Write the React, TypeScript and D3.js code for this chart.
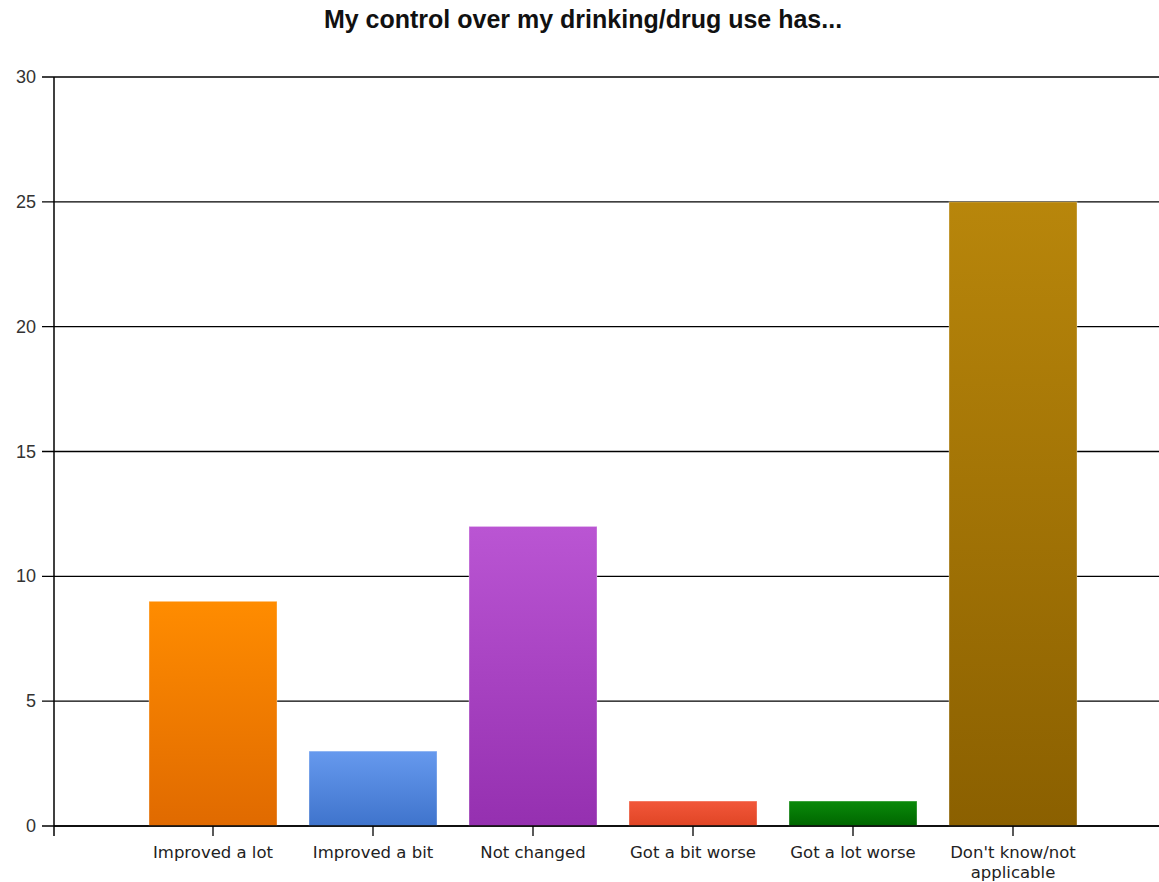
import React from "react";
import * as d3 from "d3";

const categories = ["Improved a lot", "Improved a bit", "Not changed", "Got a bit worse", "Got a lot worse", "Don't know/not applicable"];
const labelLines = [["Improved a lot"], ["Improved a bit"], ["Not changed"], ["Got a bit worse"], ["Got a lot worse"], ["Don't know/not", "applicable"]];
const values = [9, 3, 12, 1, 1, 25];
const topColors = ["#FF8C00", "#6699EE", "#BA55D3", "#F2573A", "#0A8A0A", "#B8860B"];
const bottomColors = ["#E06A00", "#3F74CC", "#9530B0", "#E04525", "#006600", "#8B6000"];
const yTicks = [0, 5, 10, 15, 20, 25, 30];
const title = "My control over my drinking/drug use has...";

export default function App() {
  const W = 1159, H = 882;
  const x0 = 54, xEnd = 1159;
  const y = d3.scaleLinear().domain([0, 30]).range([826, 77]);
  const x = d3.scaleBand().domain(categories).range([133, 1093]).paddingInner(0.2).paddingOuter(0.1);
  const font = "'Liberation Sans', Arial, sans-serif";
  const labelFont = "'DejaVu Sans', Tahoma, sans-serif";
  return (
    <svg width={W} height={H} style={{ position: "absolute", left: 0, top: 0, background: "#fff" }}>
      <defs>
        {categories.map((c, i) => (
          <linearGradient key={i} id={`g${i}`} x1="0" y1="0" x2="0" y2="1">
            <stop offset="0" stopColor={topColors[i]} />
            <stop offset="1" stopColor={bottomColors[i]} />
          </linearGradient>
        ))}
      </defs>
      <text x={583} y={28} textAnchor="middle" fontFamily={font} fontWeight="bold" fontSize={25} fill="#111">{title}</text>
      {yTicks.map((t) => (
        <g key={t}>
          <line x1={42} x2={xEnd} y1={y(t)} y2={y(t)} stroke="#000" strokeWidth={1.3} />
          <text x={36} y={y(t) + 6} textAnchor="end" fontFamily={font} fontSize={18} fill="#333">{t}</text>
        </g>
      ))}
      <line x1={x0} x2={x0} y1={y(30)} y2={836} stroke="#000" strokeWidth={1.5} />
      {categories.map((c, i) => {
        const bx = x(c)!;
        const bw = x.bandwidth();
        return (
          <g key={c}>
            <rect x={bx} y={y(values[i])} width={bw} height={y(0) - y(values[i])} fill={`url(#g${i})`} stroke="#fff" strokeOpacity={0.35} strokeWidth={1} />
            <line x1={bx + bw / 2} x2={bx + bw / 2} y1={y(0)} y2={836} stroke="#000" strokeWidth={1.3} />
            {labelLines[i].map((ln, j) => (
              <text key={j} x={bx + bw / 2} y={858 + j * 20} textAnchor="middle" fontFamily={labelFont} fontSize={16.5} fill="#222">{ln}</text>
            ))}
          </g>
        );
      })}
      <line x1={x0} x2={xEnd} y1={y(0)} y2={y(0)} stroke="#000" strokeWidth={1.3} />
    </svg>
  );
}
